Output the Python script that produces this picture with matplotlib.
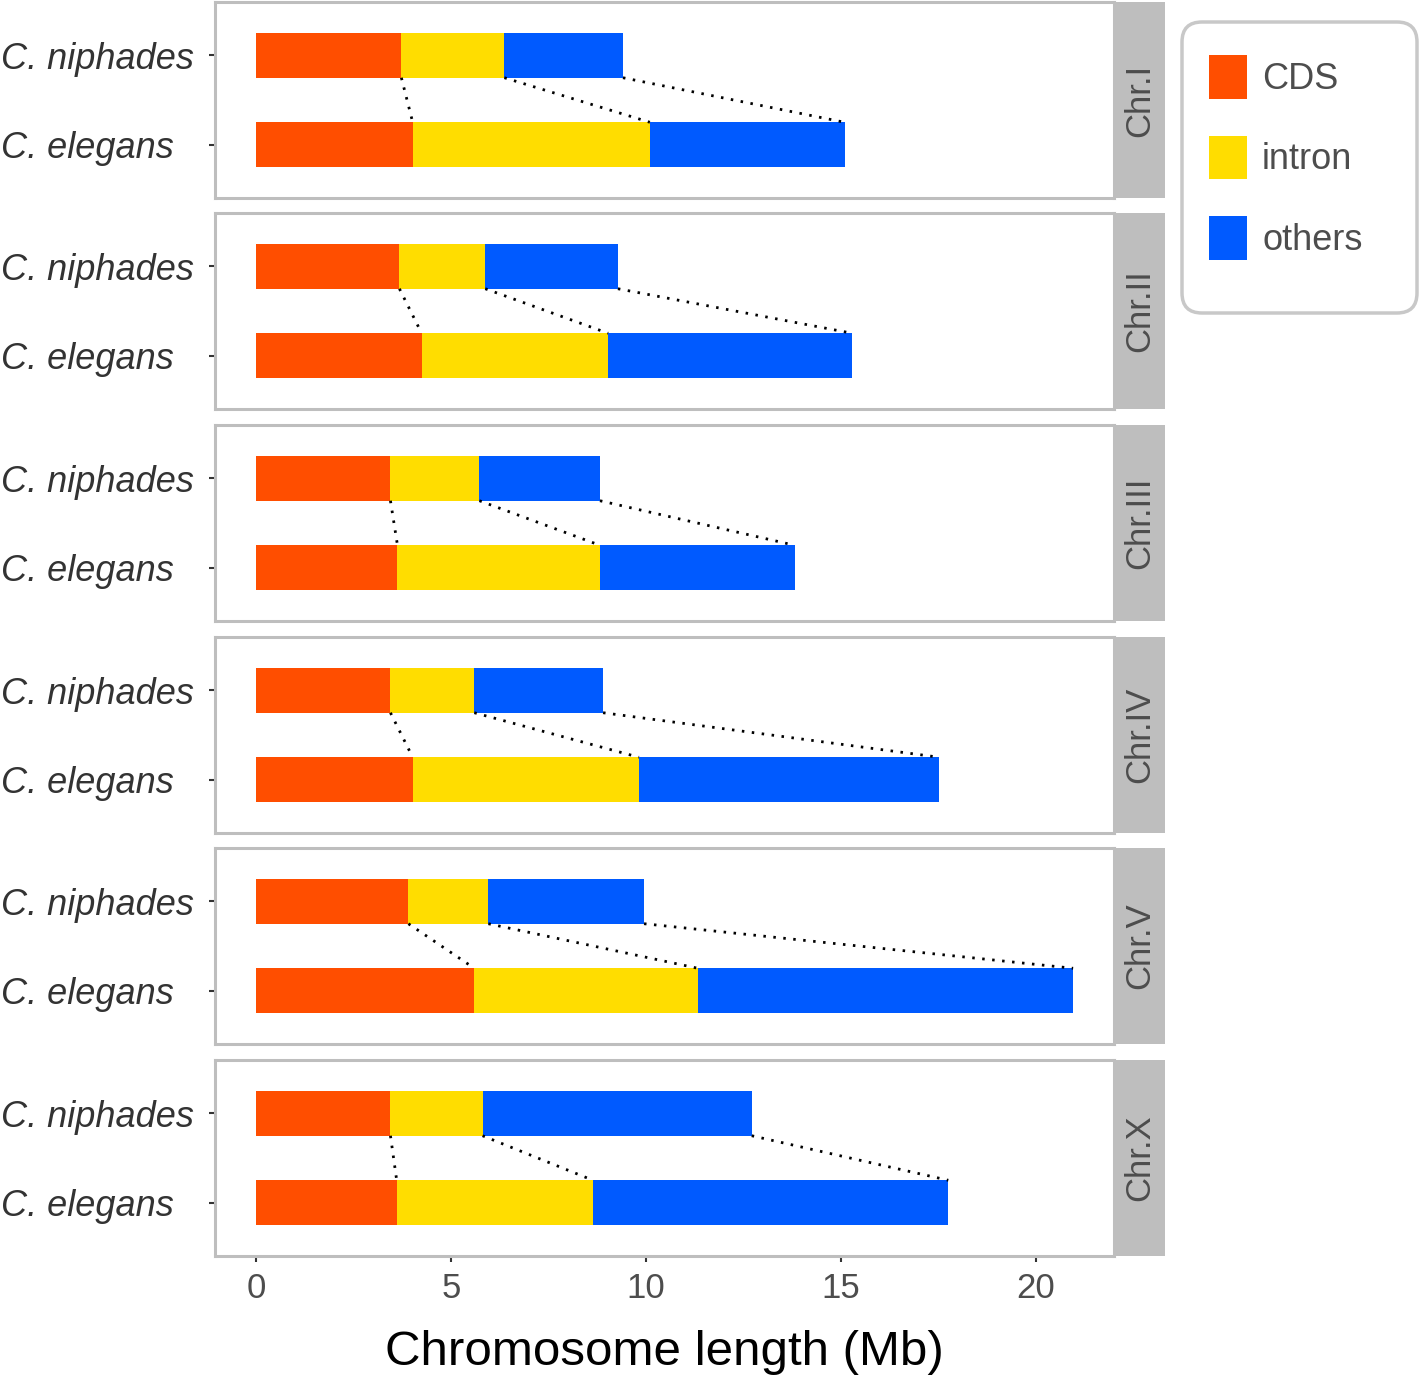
import matplotlib
matplotlib.use('Agg')
import matplotlib.pyplot as plt
from matplotlib.patches import Patch, FancyBboxPatch
import numpy as np

plt.rcParams['font.family'] = ['Liberation Sans', 'DejaVu Sans']

chromosomes = ['Chr.I', 'Chr.II', 'Chr.III', 'Chr.IV', 'Chr.V', 'Chr.X']
species = ['C. niphades', 'C. elegans']
components = ['CDS', 'intron', 'others']
colors = ['#FF4E00', '#FFDD00', '#005AFF']

niphades_cds = [3.73, 3.68, 3.45, 3.45, 3.91, 3.45]
niphades_intron = [2.64, 2.20, 2.28, 2.15, 2.05, 2.36]
niphades_others = [3.04, 3.40, 3.09, 3.30, 3.99, 6.90]
elegans_cds = [4.02, 4.25, 3.63, 4.02, 5.60, 3.61]
elegans_intron = [6.08, 4.78, 5.19, 5.80, 5.73, 5.03]
elegans_others = [4.99, 6.26, 4.99, 7.70, 9.62, 9.11]

x_ticks = [0, 5, 10, 15, 20]

W, H = 1420, 1382
fig = plt.figure(figsize=(W / 100, H / 100), dpi=100)


def rect(x0, y0, x1, y1):
    return [x0 / W, 1 - y1 / H, (x1 - x0) / W, (y1 - y0) / H]


panel_tops = [2, 213, 425, 637, 848, 1060]
panel_h = 196
px_left, px_right, strip_right = 215, 1114, 1165
border_col = '#BEBEBE'
text_col = '#4D4D4D'

all_max = max(max(np.add(np.add(niphades_cds, niphades_intron), niphades_others)),
              max(np.add(np.add(elegans_cds, elegans_intron), elegans_others)))
xlim = (-0.05 * all_max, all_max * 1.05)

bar_h = 0.5
y_pos = {'C. niphades': 2, 'C. elegans': 1}

for i, chrom in enumerate(chromosomes):
    top = panel_tops[i]
    ax = fig.add_axes(rect(px_left, top, px_right, top + panel_h))
    data = {
        'C. niphades': [niphades_cds[i], niphades_intron[i], niphades_others[i]],
        'C. elegans': [elegans_cds[i], elegans_intron[i], elegans_others[i]],
    }
    cums = {}
    for sp in species:
        left = 0.0
        ends = []
        for k, comp in enumerate(components):
            v = data[sp][k]
            ax.barh(y_pos[sp], v, left=left, height=bar_h, color=colors[k],
                    edgecolor='none', zorder=2)
            left += v
            ends.append(left)
        cums[sp] = ends
    for k in range(3):
        ax.plot([cums['C. niphades'][k], cums['C. elegans'][k]],
                [y_pos['C. niphades'] - bar_h / 2, y_pos['C. elegans'] + bar_h / 2],
                color='black', lw=2.0, linestyle=(0, (0.9, 2.7)), zorder=3)
    ax.set_xlim(*xlim)
    ax.set_ylim(0.4, 2.6)
    ax.set_yticks([y_pos[s] for s in species])
    ax.set_yticklabels(species, fontsize=26, style='italic', color='#333333')
    for t in ax.get_yticklabels():
        t.set_ha('left')
    ax.tick_params(axis='y', length=4.3, width=1.5, color='#333333', pad=150)
    for sp in ax.spines.values():
        sp.set_color(border_col)
        sp.set_linewidth(2.2)
    if i == len(chromosomes) - 1:
        ax.set_xticks(x_ticks)
        ax.set_xticklabels([str(t) for t in x_ticks], fontsize=25, color=text_col)
        ax.tick_params(axis='x', length=4.3, width=1.5, color='#333333', pad=7)
        ax.set_xlabel('Chromosome length (Mb)', fontsize=35.5, color='black', labelpad=18)
    else:
        ax.set_xticks([])
    # facet strip
    sax = fig.add_axes(rect(px_right, top, strip_right, top + panel_h))
    sax.set_facecolor(border_col)
    sax.set_xticks([])
    sax.set_yticks([])
    for sp in sax.spines.values():
        sp.set_visible(False)
    sax.text(0.5, 0.5, chrom, rotation=90, ha='center', va='center',
             fontsize=25, color=text_col, transform=sax.transAxes)

# legend box
box = FancyBboxPatch((1182 / 100, (H - 313) / 100), (1417 - 1182) / 100, (313 - 22) / 100,
                     boxstyle='round,pad=0,rounding_size=0.2',
                     transform=fig.dpi_scale_trans, facecolor='white',
                     edgecolor='#C8C8C8', linewidth=2.5)
fig.patches.append(box)
handles = [Patch(facecolor=c, edgecolor='none') for c in colors]
fig.legend(handles, components, loc='upper left',
           bbox_to_anchor=(1209 / W, 1 - 55 / H), frameon=False, fontsize=26,
           handlelength=1.05, handleheight=1.49, handletextpad=0.42,
           labelspacing=1.02, borderpad=0, borderaxespad=0, labelcolor=text_col)

fig.savefig('out.png', dpi=100)
